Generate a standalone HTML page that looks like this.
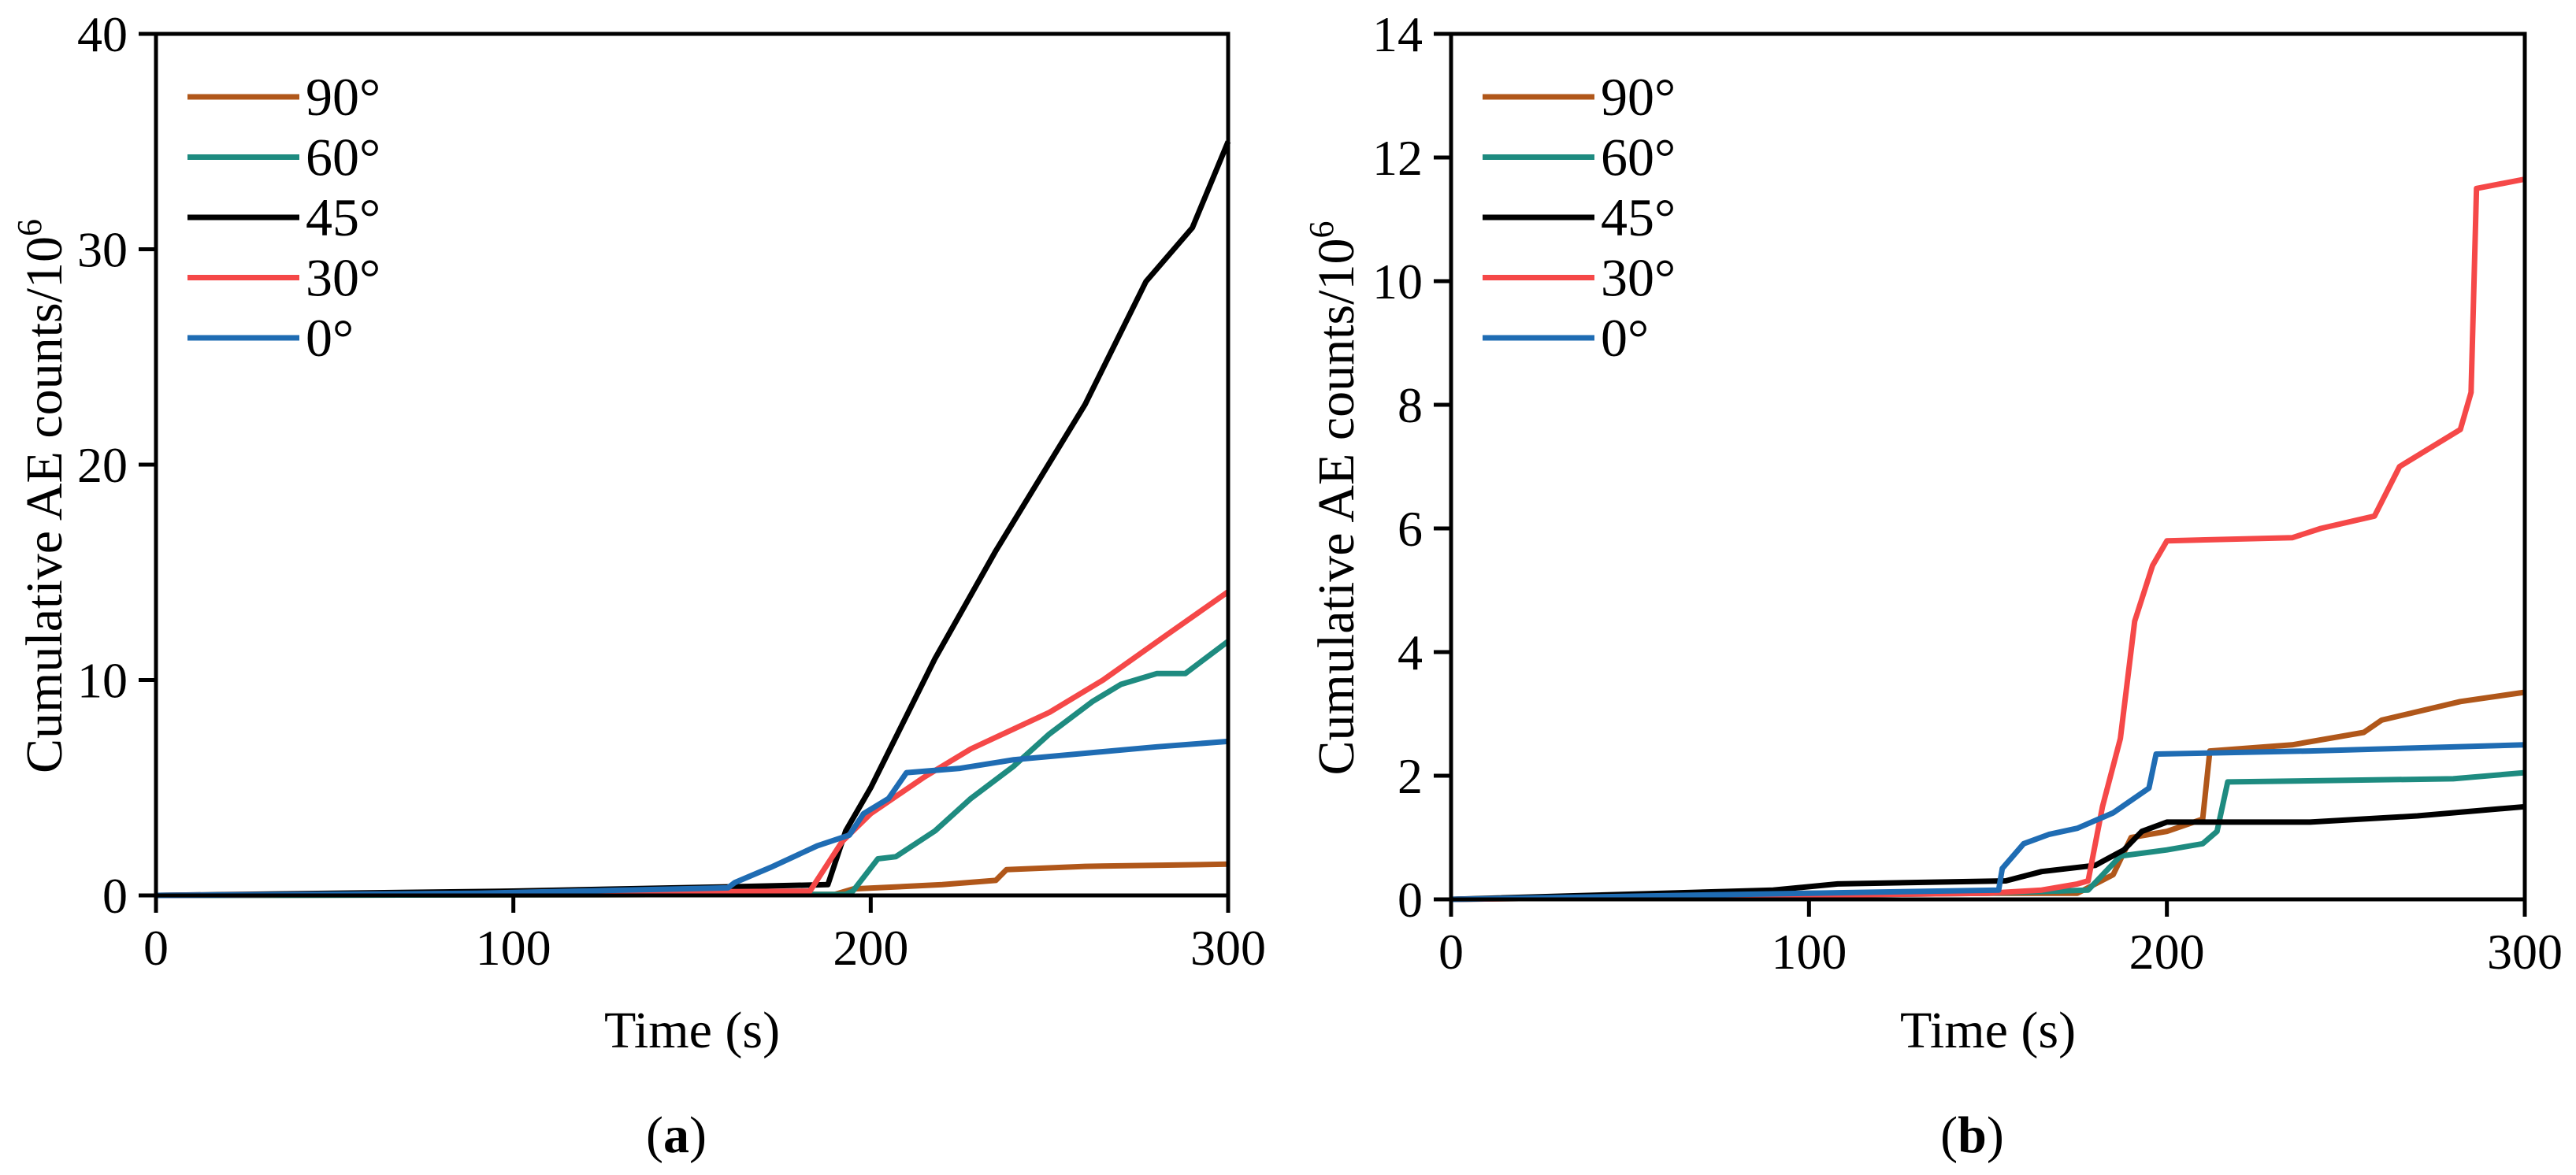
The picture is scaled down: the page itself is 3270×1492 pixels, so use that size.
<!DOCTYPE html>
<html><head><meta charset="utf-8"><style>
html,body{margin:0;padding:0;background:#fff;}
svg{display:block;font-family:"Liberation Serif",serif;}
</style></head><body>
<svg id="fig" width="3270" height="1492" viewBox="0 0 3270 1492"></svg>
<script>
const xTicks=[0,100,200,300];
const yTicksA=[0,10,20,30,40];
const yTicksB=[0,2,4,6,8,10,12,14];
const seriesLabels=["90°","60°","45°","30°","0°"];
const seriesColors=["#b0571a","#1e8b80","#000000","#f54848","#1f6cb3"];
// panel a
const a90t=[0,190,195,220,235,238,260,300], a90v=[0,0.05,0.3,0.5,0.7,1.2,1.35,1.45];
const a60t=[0,193,195,202,207,218,228,240,250,262,270,280,288,300], a60v=[0,0.05,0.2,1.7,1.8,3,4.5,6,7.5,9,9.8,10.3,10.3,11.8];
const a45t=[0,100,160,188,193,200,218,235,260,277,290,300], a45v=[0,0.2,0.4,0.5,3,5,11,16,22.8,28.5,31,35];
const a30t=[0,100,183,192,200,215,228,250,265,282,300], a30v=[0,0.1,0.2,2.5,3.8,5.5,6.8,8.5,10,12,14.1];
const a0t=[0,90,160,162,172,185,194,198,205,210,225,240,260,280,300], a0v=[0,0.1,0.35,0.6,1.3,2.3,2.8,3.8,4.5,5.7,5.9,6.3,6.6,6.9,7.15];
// panel b
const b90t=[0,50,100,175,185,190,200,210,212,235,255,260,282,300], b90v=[0,0.05,0.1,0.1,0.4,1.0,1.1,1.3,2.4,2.5,2.7,2.9,3.2,3.35];
const b60t=[0,150,178,187,200,210,214,217,280,300], b60v=[0,0.1,0.15,0.7,0.8,0.9,1.1,1.9,1.95,2.05];
const b45t=[0,90,108,155,165,180,188,193,200,240,270,300], b45v=[0,0.15,0.25,0.3,0.45,0.55,0.8,1.1,1.25,1.25,1.35,1.5];
const b30t=[0,150,165,175,178,182,187,191,196,200,235,243,258,265,282,285,286.5,300], b30v=[0,0.1,0.15,0.25,0.3,1.5,2.6,4.5,5.4,5.8,5.85,6.0,6.2,7.0,7.6,8.2,11.5,11.65];
const b0t=[0,100,153,154,160,167,175,185,195,197,240,300], b0v=[0,0.1,0.15,0.5,0.9,1.05,1.15,1.4,1.8,2.35,2.4,2.5];

const NS="http://www.w3.org/2000/svg";
const svg=document.getElementById('fig');
function mk(tag,attrs,parent){const e=document.createElementNS(NS,tag);for(const k in attrs)e.setAttribute(k,attrs[k]);(parent||svg).appendChild(e);return e;}

function panel(id,x0,x1,y0,y1,ymax,yTicks,series,letter,titleX){
  const g=mk('g',{});
  
  
  const sx=v=>x0+(x1-x0)*v/300, sy=v=>y0-(y0-y1)*v/ymax;
  series.forEach((s,i)=>{
    const d=s[0].map((t,j)=>(j?'L':'M')+sx(t).toFixed(1)+' '+sy(s[1][j]).toFixed(1)).join(' ');
    const p=mk('path',{d:d,fill:'none',stroke:seriesColors[i],'stroke-width':7,'stroke-linejoin':'round'},g);
    
    
  });
  const box=mk('rect',{x:x0,y:y1,width:x1-x0,height:y0-y1,fill:'none',stroke:'#000','stroke-width':5},g);
  
  
  yTicks.forEach(v=>{
    const y=sy(v);
    const tk=mk('line',{x1:x0-22,x2:x0,y1:y,y2:y,stroke:'#000','stroke-width':5},g);
    
    
    const t=mk('text',{x:x0-36,y:y+22,'text-anchor':'end','font-size':64},g);
    t.textContent=v;
    
    
  });
  xTicks.forEach(v=>{
    const x=sx(v);
    const tk=mk('line',{x1:x,x2:x,y1:y0,y2:y0+22,stroke:'#000','stroke-width':5},g);
    
    
    const t=mk('text',{x:x,y:y0+88,'text-anchor':'middle','font-size':64},g);
    t.textContent=v;
    
    
  });
  const xt=mk('text',{x:(x0+x1)/2,y:1330,'text-anchor':'middle','font-size':66},g);
  xt.textContent='Time (s)';
  
  
  const yt=mk('text',{transform:'translate('+titleX+','+((y0+y1)/2+40)+') rotate(-90)','text-anchor':'middle','font-size':66},g);
  yt.innerHTML='Cumulative AE counts/10<tspan dy="-26" font-size="44">6</tspan>';
  
  
  const lt=mk('text',{x:(x0+x1)/2-20,y:1463,'text-anchor':'middle','font-size':66},g);
  lt.innerHTML='(<tspan font-weight="bold">'+letter+'</tspan>)';
  
  
  seriesLabels.forEach((lab,i)=>{
    const y=123+i*76.5;
    const le=mk('g',{},g);
    
    
    mk('line',{x1:x0+40,x2:x0+182,y1:y,y2:y,stroke:seriesColors[i],'stroke-width':7},le);
    const t=mk('text',{x:x0+190,y:y+23,'font-size':68},le);
    t.textContent=lab;
  });
}
panel('a',198,1559,1137,43,40,yTicksA,[[a90t,a90v],[a60t,a60v],[a45t,a45v],[a30t,a30v],[a0t,a0v]],'a',78);
panel('b',1842,3205,1142,43,14,yTicksB,[[b90t,b90v],[b60t,b60v],[b45t,b45v],[b30t,b30v],[b0t,b0v]],'b',1718);
</script>
</body></html>
